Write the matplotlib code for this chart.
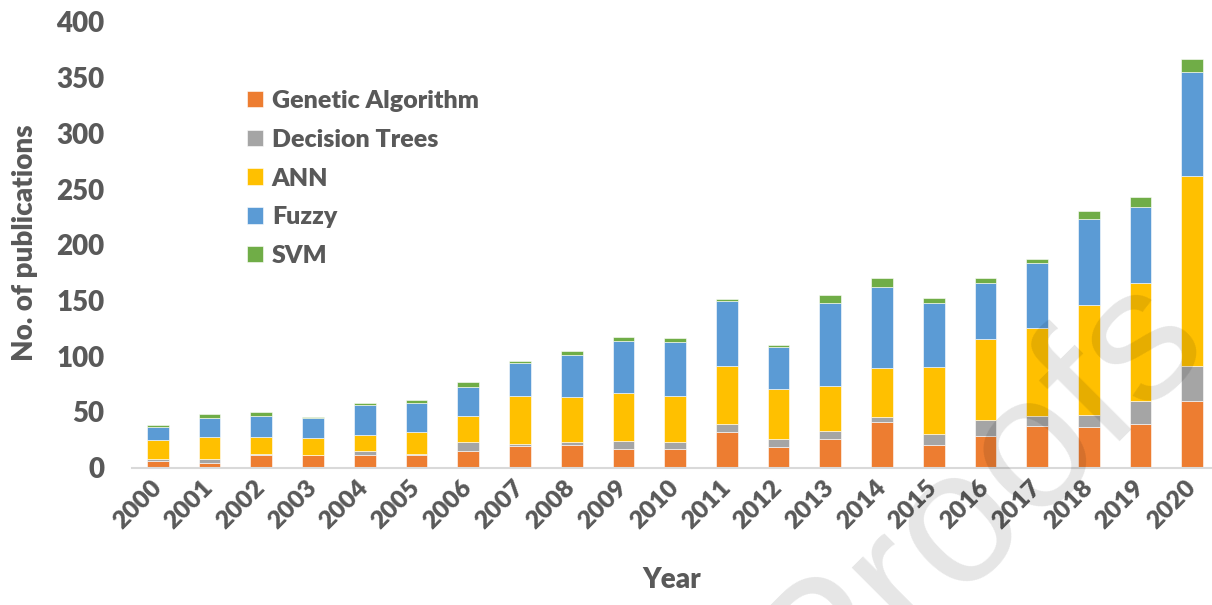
import numpy as np
import matplotlib
matplotlib.use("Agg")
import matplotlib.pyplot as plt

years = [str(y) for y in range(2000, 2021)]

genetic_algorithm = [6, 4, 11, 11, 11, 11, 15, 19, 20.5, 16.5, 16.5, 32, 18.5, 26, 41, 20.5, 28, 37, 36, 39, 60]
decision_trees = [1.5, 3.5, 1.5, 0.5, 3.5, 1.5, 7.5, 2, 2, 7.5, 6, 7, 7, 7, 4, 9.5, 14.5, 9.5, 11, 21, 31.5]
ann = [17, 20, 15, 15, 14.5, 19, 24, 43, 41, 43, 41.5, 52.5, 45, 40, 44.5, 60, 73, 78.5, 99, 106, 170]
fuzzy = [12, 17, 19, 17.5, 27, 26, 26, 30, 37.5, 47, 48.5, 58, 38, 74.5, 73, 58, 50.5, 58.5, 77, 67.5, 93.5]
svm = [1.5, 3.5, 3.5, 1.5, 1.5, 3.5, 4, 1.5, 3.5, 3.5, 3.5, 1.5, 1.5, 7.5, 7.5, 4, 4, 3.5, 7.5, 9.5, 11.5]

series = [
    ("Genetic Algorithm", genetic_algorithm, "#ED7D31"),
    ("Decision Trees", decision_trees, "#A5A5A5"),
    ("ANN", ann, "#FFC000"),
    ("Fuzzy", fuzzy, "#5B9BD5"),
    ("SVM", svm, "#70AD47"),
]

text_color = "#595959"
plt.rcParams["font.family"] = ["Lato", "DejaVu Sans"]
plt.rcParams["font.weight"] = "heavy"

W, H = 1212, 605
fig = plt.figure(figsize=(W / 100, H / 100), dpi=100)
# axes placed in pixel terms of the reference
ax = fig.add_axes([132 / W, 1 - 467.5 / H, (W - 132) / W, (467.5 - 22) / H])

x = np.arange(len(years))
bottom = np.zeros(len(years))
for label, vals, color in series:
    vals = np.array(vals, dtype=float)
    ax.bar(x, vals, 0.42, bottom=bottom, color=color, label=label,
           edgecolor="white", linewidth=0.4, zorder=2)
    bottom += vals

ax.set_ylim(0, 400)
ax.set_xlim(-0.5, len(years) - 0.62)
ax.set_yticks(np.arange(0, 401, 50))
ax.set_xticks(x)
ax.set_xticklabels(years, rotation=45, ha="right", va="center",
                   rotation_mode="anchor")
ax.tick_params(axis="y", length=0, pad=20, labelsize=20, labelcolor=text_color)
ax.tick_params(axis="x", length=0, pad=12, labelsize=18, labelcolor=text_color)

for s in ["top", "right", "left"]:
    ax.spines[s].set_visible(False)
ax.spines["bottom"].set_color("#D9D9D9")
ax.spines["bottom"].set_linewidth(1.5)

fig.text(25 / W, 1 - 243 / H, "No. of publications", rotation=90, ha="center",
         va="center", fontsize=20, fontweight="heavy", color=text_color)
fig.text(672 / W, 1 - 580 / H, "Year", ha="center", va="center",
         fontsize=20, fontweight="heavy", color=text_color)

leg = ax.legend(loc="upper left", bbox_to_anchor=(247 / W, 1 - 90 / H),
                bbox_transform=fig.transFigure, frameon=False, fontsize=18,
                handlelength=0.64, handleheight=0.64, handletextpad=0.35,
                labelspacing=0.67, borderaxespad=0, borderpad=0)
for t in leg.get_texts():
    t.set_color(text_color)

# watermark
fig.text(980 / W, 1 - 497 / H, "Proofs", rotation=45, rotation_mode="anchor",
         ha="center", va="center", fontsize=137, color="black", alpha=0.1,
         family="Liberation Sans", fontweight="normal", zorder=10)

fig.savefig("out.png", dpi=100)
